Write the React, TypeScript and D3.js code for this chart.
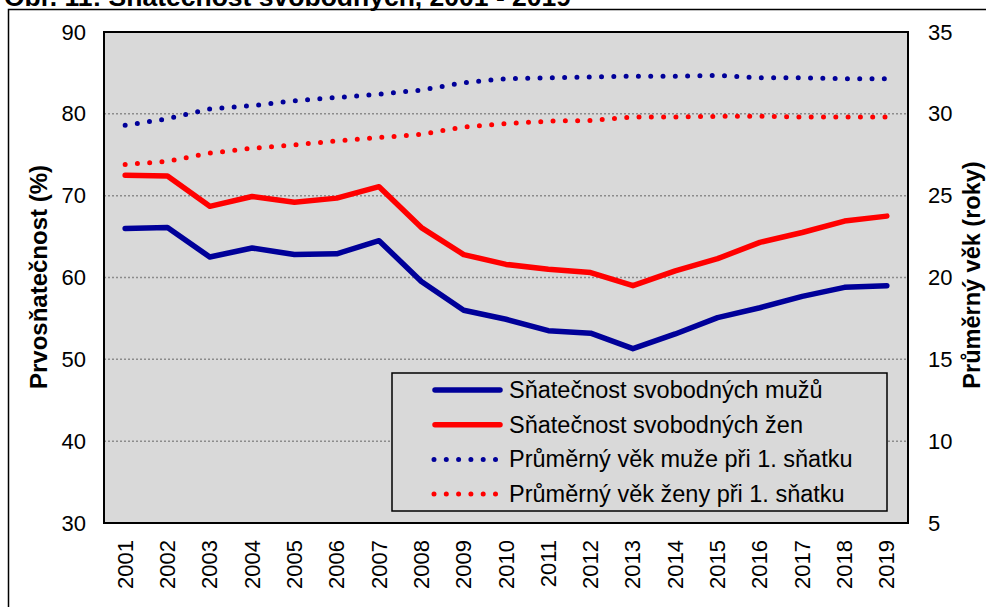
import React from "react";
import * as d3 from "d3";

const years = ["2001","2002","2003","2004","2005","2006","2007","2008","2009","2010","2011","2012","2013","2014","2015","2016","2017","2018","2019"];

// prvosňatečnost (%)
const menRate = [66.0, 66.1, 62.5, 63.6, 62.8, 62.9, 64.5, 59.5, 56.0, 54.9, 53.5, 53.2, 51.3, 53.1, 55.1, 56.3, 57.7, 58.8, 59.0];
const womenRate = [72.5, 72.4, 68.7, 69.9, 69.2, 69.7, 71.1, 66.1, 62.8, 61.6, 61.0, 60.6, 59.0, 60.8, 62.3, 64.3, 65.5, 66.9, 67.5];

// průměrný věk při 1. sňatku (roky)
const menAge = [29.3, 29.7, 30.3, 30.5, 30.8, 31.0, 31.2, 31.45, 31.9, 32.15, 32.2, 32.25, 32.3, 32.3, 32.35, 32.2, 32.2, 32.15, 32.15];
const womenAge = [26.9, 27.1, 27.6, 27.9, 28.1, 28.35, 28.55, 28.75, 29.2, 29.4, 29.55, 29.6, 29.8, 29.8, 29.85, 29.85, 29.8, 29.8, 29.8];

const leftTicks = [30, 40, 50, 60, 70, 80, 90];
const rightTicks = [5, 10, 15, 20, 25, 30, 35];

const seriesNames = [
  "Sňatečnost svobodných mužů",
  "Sňatečnost svobodných žen",
  "Průměrný věk muže při 1. sňatku",
  "Průměrný věk ženy při 1. sňatku",
];

const BLUE = "#000099";
const RED = "#ff0000";
const FONT = "Liberation Sans, Arial, sans-serif";

const App = () => {
  const width = 986;
  const height = 607;
  const left = 104, right = 908, top = 32, bottom = 523;

  const x = d3.scaleBand().domain(years).range([left, right]);
  const yL = d3.scaleLinear().domain([30, 90]).range([bottom, top]);
  const yR = d3.scaleLinear().domain([5, 35]).range([bottom, top]);
  const cx = (d: string) => x(d)! + x.bandwidth() / 2;

  const lineL = d3.line<number>().x((_, i) => cx(years[i])).y((d) => yL(d));
  const lineR = d3.line<number>().x((_, i) => cx(years[i])).y((d) => yR(d));

  const series = [
    { name: seriesNames[0], path: lineL(menRate), color: BLUE, dotted: false },
    { name: seriesNames[1], path: lineL(womenRate), color: RED, dotted: false },
    { name: seriesNames[2], path: lineR(menAge), color: BLUE, dotted: true },
    { name: seriesNames[3], path: lineR(womenAge), color: RED, dotted: true },
  ];

  const legX = 392, legY = 373, legW = 495, legH = 138;

  return (
    <svg width={width} height={height} style={{ position: "absolute", left: 0, top: 0 }} fontFamily={FONT}>
      <rect width={width} height={height} fill="#fff" />
      {/* chart title, cut off at top like in the source */}
      <text x={4} y={6} fontSize={26.5} fontWeight="bold">Obr. 11: Sňatečnost svobodných, 2001 - 2019</text>
      {/* outer frame */}
      <rect x={8.5} y={9.5} width={1000} height={620} fill="none" stroke="#000" strokeWidth={1.5} />

      {/* plot area */}
      <rect x={left} y={top} width={right - left} height={bottom - top} fill="#d9d9d9" />
      {leftTicks.slice(1, -1).map((t) => (
        <line key={t} x1={left} x2={right} y1={yL(t)} y2={yL(t)} stroke="#8c8c8c" strokeWidth={1.5} strokeDasharray="2 2" />
      ))}

      {series.map((s) => (
        <path key={s.name} d={s.path!} fill="none" stroke={s.color}
          strokeWidth={s.dotted ? 5 : 5.5}
          strokeLinecap="round" strokeLinejoin="round"
          strokeDasharray={s.dotted ? "0 12.3" : undefined} />
      ))}

      <rect x={left} y={top} width={right - left} height={bottom - top} fill="none" stroke="#000" strokeWidth={2} />

      {/* left axis */}
      {leftTicks.map((t) => (
        <text key={t} x={86} y={yL(t)} fontSize={22} textAnchor="end" dominantBaseline="central">{t}</text>
      ))}
      {/* right axis */}
      {rightTicks.map((t) => (
        <text key={t} x={928} y={yR(t)} fontSize={22} dominantBaseline="central">{t}</text>
      ))}
      {/* x axis */}
      {years.map((yr) => (
        <text key={yr} transform={`translate(${cx(yr)},540) rotate(-90)`} fontSize={22} textAnchor="end" dominantBaseline="central">{yr}</text>
      ))}

      <text transform={`translate(38,277) rotate(-90)`} fontSize={24} fontWeight="bold" textAnchor="middle" dominantBaseline="central">Prvosňatečnost (%)</text>
      <text transform={`translate(972,275) rotate(-90)`} fontSize={23.5} fontWeight="bold" textAnchor="middle" dominantBaseline="central">Průměrný věk (roky)</text>

      {/* legend */}
      <rect x={legX} y={legY} width={legW} height={legH} fill="#d9d9d9" stroke="#000" strokeWidth={1.5} />
      {series.map((s, i) => {
        const ly = 390 + i * 34.7;
        return (
          <g key={s.name}>
            <line x1={s.dotted ? 434 : 435} x2={s.dotted ? 497 : 500} y1={ly} y2={ly} stroke={s.color}
              strokeWidth={s.dotted ? 5 : 5.5} strokeLinecap="round"
              strokeDasharray={s.dotted ? "0 12.3" : undefined} />
            <text x={509} y={ly} fontSize={23.5} dominantBaseline="central">{s.name}</text>
          </g>
        );
      })}
    </svg>
  );
};

export default App;
